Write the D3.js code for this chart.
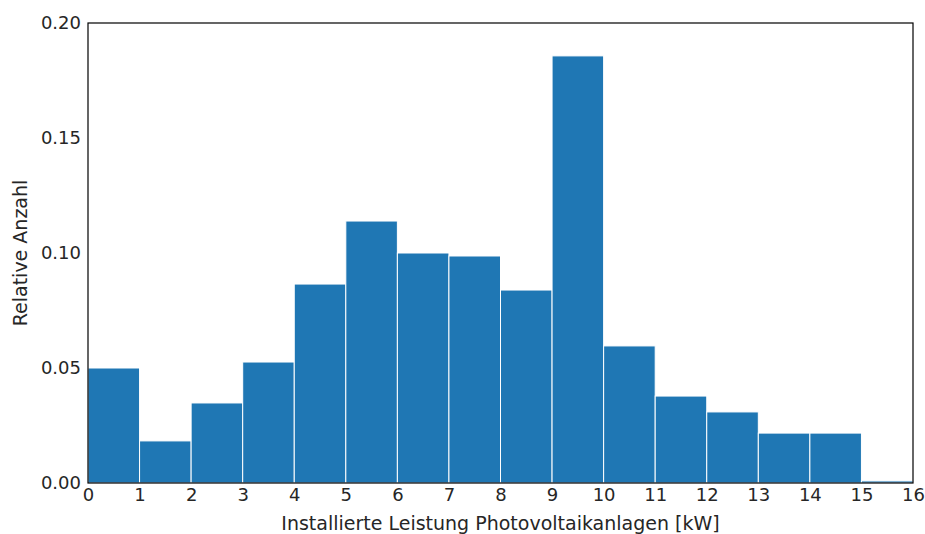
<!DOCTYPE html>
<html>
<head>
  <script src="https://d3js.org/d3.v7.min.js"></script>
  <style>
    body { margin: 0; background: white; }
    text { font-family: "DejaVu Sans", sans-serif; fill: #262626; }
  </style>
</head>
<body>
<svg id="chart" width="925" height="534"></svg>
<script>
// bin edges (kW) and relative counts
const binStarts = [0, 1, 2, 3, 4, 5, 6, 7, 8, 9, 10, 11, 12, 13, 14, 15];
const relCounts = [0.050, 0.0183, 0.0348, 0.0526, 0.0865, 0.1139, 0.1000, 0.0987,
                   0.0839, 0.1857, 0.0596, 0.0378, 0.0309, 0.0217, 0.0217, 0.0009];
const xTicks = d3.range(0, 17);
const yTicks = [0, 0.05, 0.10, 0.15, 0.20];

const margin = {top: 23, right: 12, bottom: 51, left: 88};
const width = 925 - margin.left - margin.right;
const height = 534 - margin.top - margin.bottom;

const svg = d3.select("#chart");
const g = svg.append("g").attr("transform", `translate(${margin.left},${margin.top})`);

const x = d3.scaleLinear().domain([0, 16]).range([0, width]);
const y = d3.scaleLinear().domain([0, 0.20]).range([height, 0]);

// bars
g.selectAll("rect.bar")
  .data(binStarts)
  .enter()
  .append("rect")
  .attr("class", "bar")
  .attr("x", d => x(d))
  .attr("y", (d, i) => y(relCounts[i]))
  .attr("width", d => x(d + 1) - x(d))
  .attr("height", (d, i) => y(0) - y(relCounts[i]))
  .attr("fill", "#1f77b4")
  .attr("stroke", "white")
  .attr("stroke-width", 1);

// axes (no tick marks, like the original)
const xAxis = g.append("g")
  .attr("transform", `translate(0,${height})`)
  .call(d3.axisBottom(x).tickValues(xTicks).tickFormat(d3.format("d")).tickSize(0).tickPadding(5));
const yAxis = g.append("g")
  .call(d3.axisLeft(y).tickValues(yTicks).tickFormat(d3.format(".2f")).tickSize(0).tickPadding(7));

[xAxis, yAxis].forEach(a => {
  a.select(".domain").remove();
  a.selectAll("text").attr("font-size", 18).attr("font-family", "DejaVu Sans").attr("fill", "#262626");
});

// frame
g.append("rect")
  .attr("x", 0).attr("y", 0)
  .attr("width", width).attr("height", height)
  .attr("fill", "none")
  .attr("stroke", "black")
  .attr("stroke-width", 1.2);

// labels
svg.append("text")
  .attr("x", margin.left + width / 2)
  .attr("y", 530)
  .attr("text-anchor", "middle")
  .attr("font-size", 19)
  .text("Installierte Leistung Photovoltaikanlagen [kW]");

svg.append("text")
  .attr("transform", `translate(27,${margin.top + height / 2}) rotate(-90)`)
  .attr("text-anchor", "middle")
  .attr("font-size", 19)
  .text("Relative Anzahl");
</script>
</body>
</html>
